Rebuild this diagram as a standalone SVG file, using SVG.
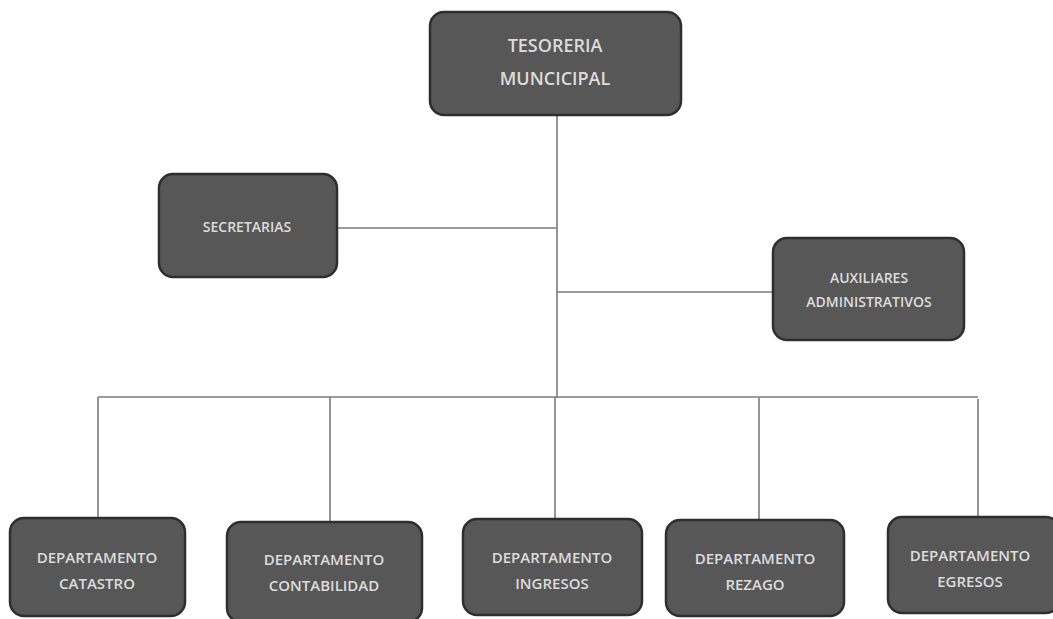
<svg xmlns="http://www.w3.org/2000/svg" width="1053" height="619" viewBox="0 0 1053 619">
<style>
.box{fill:#575757;stroke:#2e2e2e;stroke-width:2.5}
.t{font-family:"Open Sans","Liberation Sans",sans-serif;fill:#dcdcdc;text-anchor:middle;font-size:15px;font-weight:600}
.tb{font-size:18px}
.ts{font-size:14px}
.c{stroke:#7a7a7a;stroke-width:1.6;fill:none}
</style>
<rect width="1053" height="619" fill="#ffffff"/>
<g id="connectors">
<path class="c" d="M557 115 V398"/>
<path class="c" d="M337 228 H557"/>
<path class="c" d="M557 292 H773"/>
<path class="c" d="M98 397 H978"/>
<path class="c" d="M98 397 V518"/>
<path class="c" d="M330 397 V522"/>
<path class="c" d="M555 397 V519"/>
<path class="c" d="M759 398 V520"/>
<path class="c" d="M978 399 V517"/>
</g>
<g id="tesoreria">
<rect class="box" x="430" y="12" width="251" height="103" rx="14"/>
<text class="t tb" x="555" y="52">TESORERIA</text>
<text class="t tb" x="555" y="85">MUNCICIPAL</text>
</g>
<g id="secretarias">
<rect class="box" x="159" y="174" width="178" height="103" rx="14"/>
<text class="t ts" x="247" y="232">SECRETARIAS</text>
</g>
<g id="auxiliares">
<rect class="box" x="773" y="238" width="191" height="102" rx="14"/>
<text class="t ts" x="869" y="283">AUXILIARES</text>
<text class="t ts" x="869" y="307">ADMINISTRATIVOS</text>
</g>
<g id="catastro">
<rect class="box" x="10" y="518" width="175" height="98" rx="14"/>
<text class="t" x="97" y="563">DEPARTAMENTO</text>
<text class="t" x="97" y="589">CATASTRO</text>
</g>
<g id="contabilidad">
<rect class="box" x="227" y="522" width="195" height="100" rx="14"/>
<text class="t" x="324" y="565">DEPARTAMENTO</text>
<text class="t" x="324" y="591">CONTABILIDAD</text>
</g>
<g id="ingresos">
<rect class="box" x="463" y="519" width="179" height="96" rx="14"/>
<text class="t" x="552" y="563">DEPARTAMENTO</text>
<text class="t" x="552" y="589">INGRESOS</text>
</g>
<g id="rezago">
<rect class="box" x="666" y="520" width="178" height="96" rx="14"/>
<text class="t" x="755" y="564">DEPARTAMENTO</text>
<text class="t" x="755" y="590">REZAGO</text>
</g>
<g id="egresos">
<rect class="box" x="888" y="517" width="172" height="96" rx="14"/>
<text class="t" x="970" y="561">DEPARTAMENTO</text>
<text class="t" x="970" y="587">EGRESOS</text>
</g>
</svg>
